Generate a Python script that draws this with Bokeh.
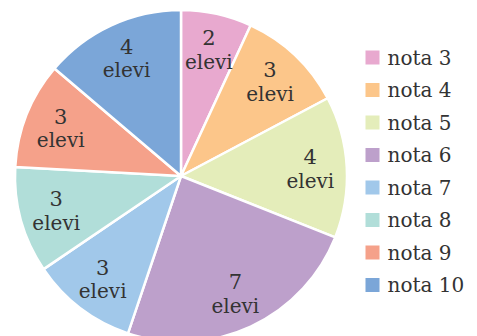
import numpy as np
from bokeh.plotting import figure
from bokeh.models import Range1d, ColumnDataSource
from bokeh.core.properties import value
from bokeh.embed import file_html
from bokeh.resources import INLINE

# Grade distribution of the class
grades = ["nota 3", "nota 4", "nota 5", "nota 6", "nota 7", "nota 8", "nota 9", "nota 10"]
students = [2, 3, 4, 7, 3, 3, 3, 4]
colors = ["#E8A9CF", "#FCC68A", "#E4EDBA", "#BDA0CB", "#A1C8EA", "#B1DED9", "#F5A18A", "#7BA6D8"]
unit = "elevi"

W, H = 477, 336
cx, cy, R = 180.5, H - 175.5, 166
label_r = 0.78 * R
FONT = "DejaVu Serif"
TEXT_COLOR = "#333333"

vals = np.array(students, dtype=float)
frac = vals / vals.sum()
cum = np.concatenate([[0], np.cumsum(frac)]) * 2 * np.pi
start = np.pi / 2 - cum[:-1]
end = np.pi / 2 - cum[1:]
mid = np.pi / 2 - (cum[:-1] + cum[1:]) / 2

src = ColumnDataSource(dict(start=start, end=end, color=colors, grade=grades))

p = figure(width=W, height=H, x_range=Range1d(0, W), y_range=Range1d(0, H),
           output_backend="svg", toolbar_location=None, min_border=0,
           background_fill_color="white", border_fill_color="white")
p.axis.visible = False
p.grid.visible = False
p.outline_line_color = None

p.wedge(x=cx, y=cy, radius=R, start_angle="start", end_angle="end", direction="clock",
        fill_color="color", line_color="white", line_width=2.5, source=src)

# Slice labels: count above, unit below
lx = cx + label_r * np.cos(mid)
ly = cy + label_r * np.sin(mid)
lab = ColumnDataSource(dict(x=lx, y=ly, n=[str(s) for s in students], u=[unit] * len(students)))
p.text(x="x", y="y", text="n", source=lab, text_align="center", text_baseline="middle",
       y_offset=-12, text_font=value(FONT), text_font_size="21px", text_color=TEXT_COLOR)
p.text(x="x", y="y", text="u", source=lab, text_align="center", text_baseline="middle",
       y_offset=12, text_font=value(FONT), text_font_size="20px", text_color=TEXT_COLOR)

# Legend on the right
leg_x, leg_top, pitch, box = 372, H - 57, 32.5, 14
idx = np.arange(len(grades))
leg = ColumnDataSource(dict(x=[leg_x] * len(grades), y=leg_top - idx * pitch,
                            color=colors, grade=grades))
p.rect(x="x", y="y", width=box, height=box, fill_color="color", line_color=None, source=leg)
p.text(x="x", y="y", text="grade", source=leg, x_offset=15, text_baseline="middle",
       text_font=value(FONT), text_font_size="20px", text_color=TEXT_COLOR)

open("out.html", "w").write(file_html(p, INLINE))
